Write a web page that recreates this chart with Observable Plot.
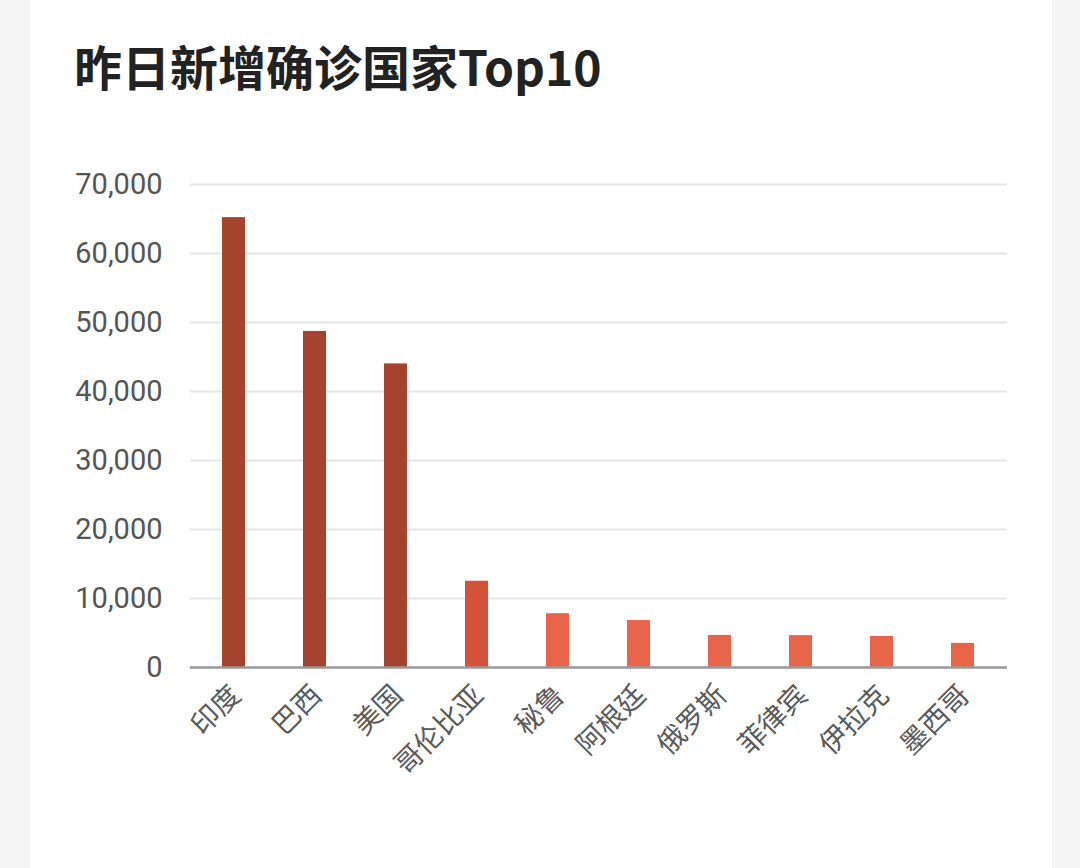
<!DOCTYPE html>
<html>
<head>
<meta charset="utf-8">
<script src="https://cdn.jsdelivr.net/npm/d3@7"></script>
<script src="https://cdn.jsdelivr.net/npm/@observablehq/plot@0.6"></script>
<style>
  html, body { margin: 0; padding: 0; background: #f5f5f5; }
  #page { position: relative; width: 1080px; height: 868px; overflow: hidden; background: #f5f5f5; }
  #card { position: absolute; left: 30px; top: 0; width: 1022px; height: 868px; background: #ffffff; }
  #title { position: absolute; left: 74px; top: 37px; font-family: "Noto Sans CJK SC", Roboto, sans-serif; font-weight: 700; font-size: 48px; line-height: 56px; color: #222; white-space: nowrap; }
  #chart { position: absolute; left: 0; top: 150px; }
</style>
</head>
<body>
<div id="page">
  <div id="card"></div>
  <div id="title">昨日新增确诊国家Top10</div>
  <div id="chart"></div>
</div>
<script>
const countries = ["印度", "巴西", "美国", "哥伦比亚", "秘鲁", "阿根廷", "俄罗斯", "菲律宾", "伊拉克", "墨西哥"];
const newCases = [65200, 48700, 44000, 12500, 7800, 6800, 4650, 4620, 4500, 3500];
const yTicks = [0, 10000, 20000, 30000, 40000, 50000, 60000, 70000];

const data = countries.map((c, i) => ({country: c, value: newCases[i]}));

const chart = Plot.plot({
  width: 1080,
  height: 718,
  marginTop: 34,
  marginBottom: 201,
  marginLeft: 190,
  marginRight: 73,
  style: {fontFamily: "Roboto, 'Noto Sans CJK SC', sans-serif", background: "transparent", color: "#555"},
  x: {domain: countries, paddingInner: 0.71, paddingOuter: 0.355, label: null},
  y: {domain: [0, 70000], label: null},
  color: {type: "threshold", domain: [10000, 20000], range: ["#e8654a", "#d2523a", "#a6432f"]},
  marks: [
    Plot.gridY(yTicks, {stroke: "#e6e6e6", strokeWidth: 2, strokeOpacity: 1}),
    Plot.barY(data, {x: "country", y: "value", fill: "value"}),
    Plot.ruleY([0], {stroke: "#9a9a9a", strokeWidth: 2.5}),
    Plot.axisY(yTicks, {tickSize: 0, tickPadding: 28, fontSize: 29, fill: "#555", tickFormat: d3.format(","), label: null}),
    Plot.axisX({tickSize: 0, tickRotate: -45, fontSize: 28, fill: "#5a5a5a", tickPadding: 23, dx: 2, label: null, fontFamily: "'Noto Sans CJK SC', sans-serif", fontWeight: 400})
  ]
});
document.getElementById("chart").appendChild(chart);
</script>
</body>
</html>
